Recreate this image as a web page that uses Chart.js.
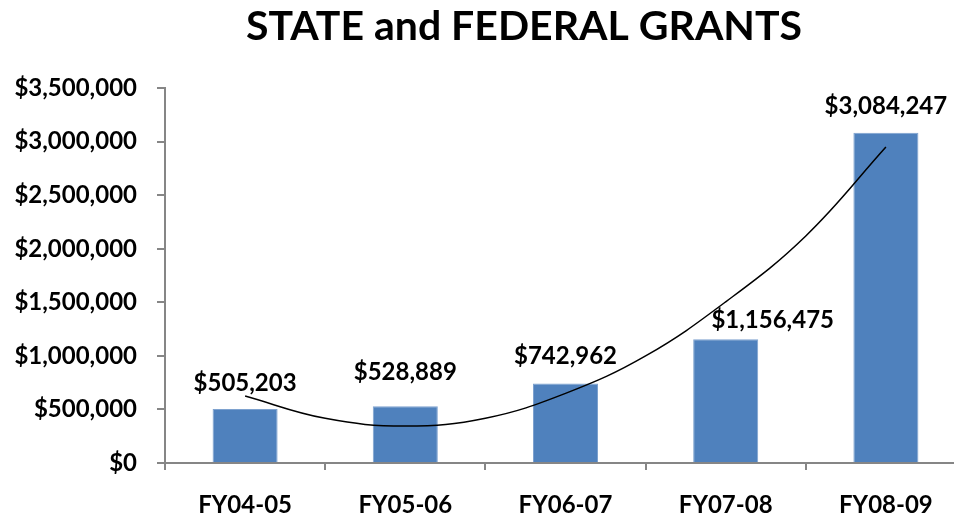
<!DOCTYPE html>
<html>
<head>
<meta charset="utf-8">
<script src="https://cdn.jsdelivr.net/npm/chart.js@4.4.1/dist/chart.umd.min.js"></script>
<style>
  html, body { margin: 0; padding: 0; background: #ffffff; overflow: hidden; }
  #wrap { width: 1048px; height: 521px; position: relative; }
</style>
</head>
<body>
<div id="wrap"><canvas id="c"></canvas></div>
<script>
// ---- data ----
const categories = ['FY04-05', 'FY05-06', 'FY06-07', 'FY07-08', 'FY08-09'];
const grants = [505203, 528889, 742962, 1156475, 3084247];
// trendline (polynomial) read at half-category steps
const trendX = [0, 0.5, 1, 1.5, 2, 2.5, 3, 3.5, 4];
const trendY = [625000, 417000, 345000, 418000, 650000, 1000000, 1505000, 2120000, 2950000];
const yTicks = [0, 500000, 1000000, 1500000, 2000000, 2500000, 3000000, 3500000];

const FONT = 'Lato, "Open Sans", sans-serif';
const money = v => '$' + Number(v).toLocaleString('en-US');

const valueLabels = {
  id: 'valueLabels',
  afterDatasetsDraw(chart, args, opts) {
    const ctx = chart.ctx;
    const meta = chart.getDatasetMeta(0);
    ctx.save();
    ctx.font = 'bold 24px ' + FONT;
    ctx.fillStyle = '#000';
    ctx.textAlign = 'center';
    ctx.textBaseline = 'middle';
    meta.data.forEach((bar, i) => {
      const n = (opts.nudge && opts.nudge[i]) || [0, 0];
      ctx.fillText(money(grants[i]), bar.x + n[0], bar.y - 26 + n[1]);
    });
    ctx.restore();
  }
};

new Chart(document.getElementById('c'), {
  data: {
    labels: categories,
    datasets: [
      {
        type: 'bar',
        data: grants,
        backgroundColor: '#4F81BD',
        borderColor: '#7EA2CF',
        borderWidth: 1,
        categoryPercentage: 1,
        barPercentage: 0.406,
        grouped: false,
        order: 2
      },
      {
        type: 'line',
        data: trendX.map((x, i) => ({ x: x, y: trendY[i] })),
        xAxisID: 'xt',
        borderColor: '#000',
        borderWidth: 1.5,
        pointRadius: 0,
        tension: 0.4,
        fill: false,
        order: 1
      }
    ]
  },
  plugins: [valueLabels],
  options: {
    responsive: true,
    maintainAspectRatio: false,
    animation: false,
    layout: { padding: 0 },
    plugins: {
      legend: { display: false },
      tooltip: { enabled: false },
      title: {
        display: true,
        text: 'STATE and FEDERAL GRANTS',
        color: '#000',
        font: { family: FONT, size: 41, weight: 'bold' },
        padding: { top: 2, bottom: 37 }
      },
      valueLabels: { nudge: [[0, 0], [0, -8], [0, -1], [47, 7], [0, 0]] }
    },
    scales: {
      x: {
        type: 'category',
        offset: true,
        border: { color: '#868686', width: 2 },
        grid: { display: true, drawOnChartArea: false, drawTicks: true, tickLength: 7, color: '#868686', lineWidth: 2, offset: true },
        ticks: { color: '#000', font: { family: FONT, size: 24, weight: 'bold' }, padding: 21, maxRotation: 0 },
        afterFit(scale) { scale.height = 58; }
      },
      xt: {
        type: 'linear',
        display: false,
        min: -0.5,
        max: 4.5
      },
      y: {
        min: 0,
        max: 3500000,
        afterBuildTicks(scale) { scale.ticks = yTicks.map(v => ({ value: v })); },
        border: { color: '#868686', width: 2 },
        grid: { display: true, drawOnChartArea: false, drawTicks: true, tickLength: 8, color: '#868686', lineWidth: 2 },
        ticks: {
          color: '#000',
          font: { family: FONT, size: 24, weight: 'bold' },
          padding: 20,
          callback: v => money(v)
        },
        afterFit(scale) { scale.width = 165; }
      },
      yr: {
        type: 'linear',
        position: 'right',
        display: true,
        ticks: { display: false },
        grid: { display: false },
        border: { display: false },
        afterFit(scale) { scale.width = 82; }
      }
    }
  }
});
</script>
</body>
</html>
